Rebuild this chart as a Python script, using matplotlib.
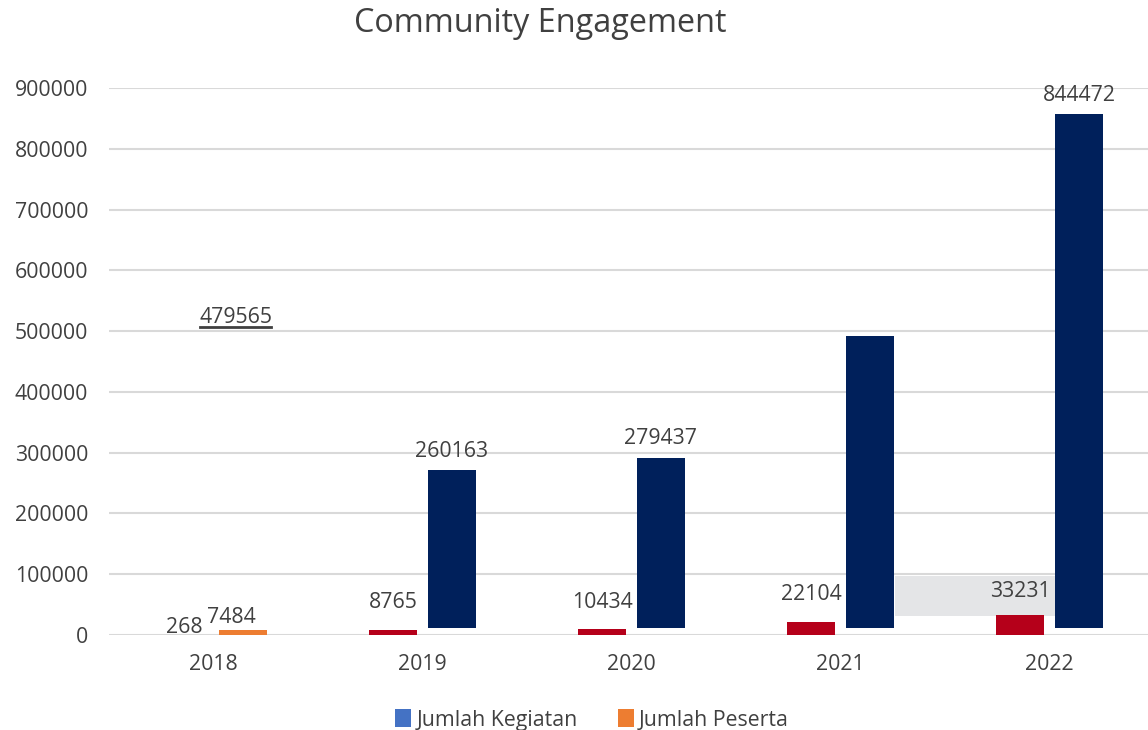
import matplotlib
matplotlib.use("Agg")
import matplotlib.pyplot as plt
from matplotlib.patches import Patch, Rectangle
from matplotlib.lines import Line2D
import numpy as np

plt.rcParams['font.family'] = ['Open Sans', 'DejaVu Sans']

# ---- data ----
years = ['2018', '2019', '2020', '2021', '2022']
kegiatan = [268, 8765, 10434, 22104, 33231]
peserta = [7484, 260163, 279437, 479565, 844472]
yticks = [0, 100000, 200000, 300000, 400000, 500000, 600000, 700000, 800000, 900000]

# ---- styles ----
RED = '#B5001A'
NAVY = '#00205B'
ORANGE = '#ED7D31'
BLUE = '#4472C4'
TXT = '#404040'
GRID = '#D9D9D9'

peserta_colors = [ORANGE, NAVY, NAVY, NAVY, NAVY]
peserta_bottom = [0, 12000, 12000, 12000, 12000]   # overlay shapes shifted upward
# label offsets (pixels) relative to bar-top position (x: bar centre)
keg_off = [(0, 7), (0, 27), (0, 26), (0, 27), (0, 23)]
pes_off = [(-12, 13), (0, 25), (0, 27), (-634, 26), (0, 26)]

fig = plt.figure(figsize=(11.48, 7.30), dpi=100)
ax = fig.add_axes([109/1148, 1-635/730, 1045/1148, 547/730])

x = np.arange(len(years))
w = 0.23
dx = 0.141
ax.bar(x - dx, kegiatan, width=w, color=RED, zorder=3)
ax.bar(x + dx, peserta, width=w, bottom=peserta_bottom, color=peserta_colors, zorder=3)

# grey label box (2022)
ax.add_patch(Rectangle((3.262, 31300), 0.78, 65700, facecolor='#E4E5E7',
                       edgecolor='none', zorder=2))

fs = 15.3
for i in range(len(years)):
    ax.annotate(str(kegiatan[i]), (x[i] - dx, kegiatan[i]), xytext=keg_off[i],
                textcoords='offset pixels', ha='center', va='center',
                fontsize=fs, color=TXT, zorder=5)
    t = ax.annotate(str(peserta[i]), (x[i] + dx, peserta[i]), xytext=pes_off[i],
                    textcoords='offset pixels', ha='center', va='center',
                    fontsize=fs, color=TXT, zorder=5)
    if i == 3:
        moved = t

ax.set_ylim(0, 900000)
ax.set_xlim(-0.5, 4.5)
ax.set_yticks(yticks)
ax.set_yticklabels([str(v) for v in yticks])
ax.set_xticks(x)
ax.set_xticklabels(years)
ax.tick_params(axis='both', length=0, labelsize=fs, labelcolor=TXT)
ax.tick_params(axis='y', pad=15)
ax.tick_params(axis='x', pad=14)
ax.grid(axis='y', color=GRID, linewidth=1.5, zorder=0)
ax.set_axisbelow(True)
for s in ax.spines.values():
    s.set_visible(False)

fig.text(540/1148, 1-24/730, 'Community Engagement', ha='center', va='center',
         fontsize=23.3, color=TXT)

handles = [Patch(facecolor=BLUE), Patch(facecolor=ORANGE)]
fig.legend(handles, ['Jumlah Kegiatan', 'Jumlah Peserta'], loc='center',
           bbox_to_anchor=(592/1148, 1-720/730), ncol=2, frameon=False,
           fontsize=fs, labelcolor=TXT, handlelength=0.75, handleheight=0.9,
           handletextpad=0.25, columnspacing=1.9)

# underline for the moved label
fig.canvas.draw()
bb = moved.get_window_extent()
fig.add_artist(Line2D([bb.x0 + 1, bb.x1 - 1], [bb.y0 + 1, bb.y0 + 1],
                      transform=None, color=TXT, linewidth=2))

fig.savefig('out.png', dpi=100)
